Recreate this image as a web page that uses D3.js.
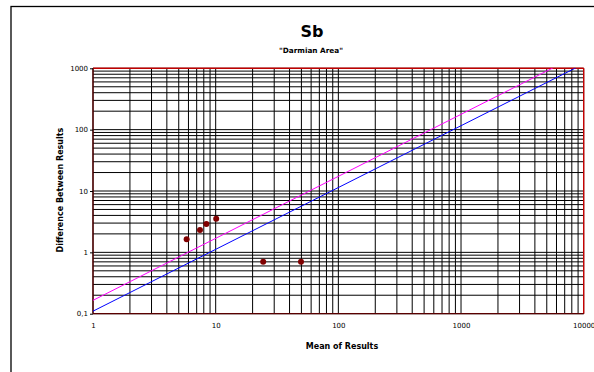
<!DOCTYPE html>
<html><head><meta charset="utf-8">
<script src="https://cdn.jsdelivr.net/npm/d3@7"></script>
<style>body{margin:0;background:#fff}svg{display:block}text{font-family:"DejaVu Sans",sans-serif}</style>
</head><body><svg id="c" width="594" height="372"></svg>
<script>
const title = "Sb";
const subtitle = "\"Darmian Area\"";
const xTitle = "Mean of Results";
const yTitle = "Difference Between Results";
const xTicks = [1, 10, 100, 1000, 10000];
const xTickLabels = ["1", "10", "100", "1000", "10000"];
const yTicks = [0.1, 1, 10, 100, 1000];
const yTickLabels = ["0,1", "1", "10", "100", "1000"];
// scatter points
const pointsX = [5.8, 7.45, 8.4, 10.1, 24.4, 49.6];
const pointsY = [1.63, 2.31, 2.9, 3.54, 0.70, 0.70];
// reference lines (values at x = 1 and x = 10000)
const lineX = [1, 10000];
const magentaY = [0.165, 1820];
const blueY = [0.11, 1180];

const svg = d3.select("#c");
const L = 93, R = 583.7, T = 68.3, B = 313.7;
const x = d3.scaleLog().domain([1, 10000]).range([L, R]);
const y = d3.scaleLog().domain([0.1, 1000]).range([B, T]);

// outer frame
svg.append("rect").attr("x", 11).attr("y", 6.5).attr("width", 600).attr("height", 400)
  .attr("fill", "none").attr("stroke", "#000").attr("stroke-width", 1.3);

// grid
const g = svg.append("g");
const minorX = [];
for (let d = 1; d < 10000; d *= 10) for (let m = 1; m <= 9; m++) minorX.push(d * m);
minorX.push(10000);
const minorY = [];
for (let d = 0.1; d < 999; d *= 10) for (let m = 1; m <= 9; m++) minorY.push(+(d * m).toPrecision(3));
minorY.push(1000);
g.selectAll("line.vx").data(minorX).join("line")
  .attr("x1", d => x(d)).attr("x2", d => x(d)).attr("y1", T).attr("y2", B)
  .attr("stroke", "#000").attr("stroke-width", 1);
g.selectAll("line.hy").data(minorY).join("line")
  .attr("x1", L).attr("x2", R).attr("y1", d => y(d)).attr("y2", d => y(d))
  .attr("stroke", "#000").attr("stroke-width", 1);

// plot border
svg.append("line").attr("x1", L).attr("x2", R).attr("y1", T).attr("y2", T).attr("stroke", "#c00000").attr("stroke-width", 1.5);
svg.append("line").attr("x1", R).attr("x2", R).attr("y1", T).attr("y2", B).attr("stroke", "#d00000").attr("stroke-width", 1.3);
svg.append("line").attr("x1", L).attr("x2", R).attr("y1", B).attr("y2", B).attr("stroke", "#5a0000").attr("stroke-width", 1.3);
svg.append("line").attr("x1", L).attr("x2", L).attr("y1", T).attr("y2", B).attr("stroke", "#5a0000").attr("stroke-width", 1.3);

// reference lines, clipped
svg.append("clipPath").attr("id", "clip").append("rect").attr("x", L).attr("y", T).attr("width", R - L).attr("height", B - T);
const lineGen = d3.line().x(d => x(d[0])).y(d => y(d[1]));
svg.append("path").attr("clip-path", "url(#clip)").datum(lineX.map((v, i) => [v, magentaY[i]]))
  .attr("d", lineGen).attr("fill", "none").attr("stroke", "#ff00ff").attr("stroke-width", 1);
svg.append("path").attr("clip-path", "url(#clip)").datum(lineX.map((v, i) => [v, blueY[i]]))
  .attr("d", lineGen).attr("fill", "none").attr("stroke", "#0000ff").attr("stroke-width", 1);

// points
svg.selectAll("circle.p").data(pointsX.map((v, i) => [v, pointsY[i]])).join("circle")
  .attr("cx", d => x(d[0])).attr("cy", d => y(d[1])).attr("r", 3).attr("fill", "#800000");

// axes
const yAxis = d3.axisLeft(y).tickValues(yTicks).tickFormat((d, i) => yTickLabels[i]).tickSize(3).tickPadding(2);
const ya = svg.append("g").attr("transform", `translate(${L},0)`).call(yAxis);
ya.select(".domain").remove();
ya.selectAll("text").attr("font-size", 7).attr("font-family", "Liberation Sans, Arial, sans-serif").attr("fill", "#000");
const xAxis = d3.axisBottom(x).tickValues(xTicks).tickFormat((d, i) => xTickLabels[i]).tickSize(0).tickPadding(9);
const xa = svg.append("g").attr("transform", `translate(0,${B})`).call(xAxis);
xa.select(".domain").remove();
xa.selectAll("text").attr("font-size", 7).attr("font-family", "Liberation Sans, Arial, sans-serif").attr("fill", "#000");

// titles
svg.append("text").attr("x", 312).attr("y", 37).attr("text-anchor", "middle")
  .attr("font-size", 16).attr("font-weight", "bold").text(title);
svg.append("text").attr("x", 311).attr("y", 53).attr("text-anchor", "middle")
  .attr("font-size", 7.3).attr("font-weight", "bold").text(subtitle);
svg.append("text").attr("x", 342).attr("y", 349).attr("text-anchor", "middle")
  .attr("font-size", 8).attr("font-weight", "bold").text(xTitle);
svg.append("text").attr("transform", "translate(63,190) rotate(-90)").attr("text-anchor", "middle")
  .attr("font-size", 8).attr("font-weight", "bold").text(yTitle);
</script></body></html>
